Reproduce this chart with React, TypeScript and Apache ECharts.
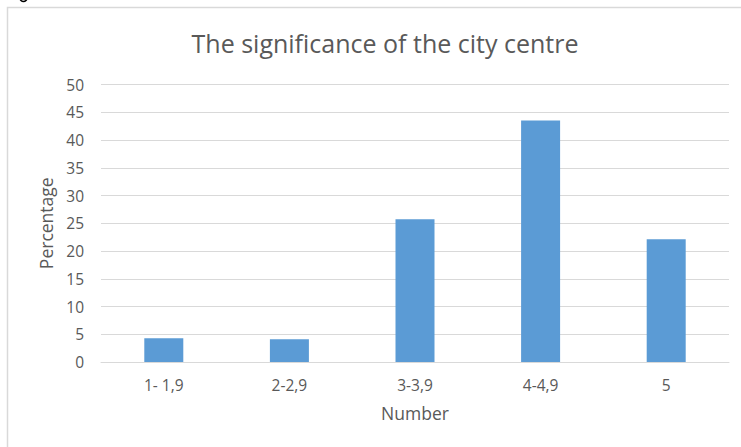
import React, { useEffect, useRef } from "react";
import * as echarts from "echarts";

const titleText = "The significance of the city centre";
const categories = ["1- 1,9", "2-2,9", "3-3,9", "4-4,9", "5"];
const percentages = [4.3, 4.1, 25.7, 43.5, 22.1];
const yAxisName = "Percentage";
const xAxisName = "Number";

const FONT = "'Open Sans', 'Noto Sans', sans-serif";
const TEXT_COLOR = "#595959";
const GRID_COLOR = "#d9d9d9";

export default function App() {
  const ref = useRef<HTMLDivElement>(null);
  useEffect(() => {
    if (!ref.current) return;
    const chart = echarts.init(ref.current, null, { renderer: "svg" });
    chart.setOption({
      animation: false,
      backgroundColor: "#ffffff",
      title: {
        text: titleText,
        left: 380,
        top: 25,
        textAlign: "center",
        textStyle: { fontFamily: FONT, fontSize: 25, fontWeight: "normal", color: TEXT_COLOR },
      },
      graphic: [
        {
          type: "rect",
          shape: { x: 7.5, y: 7.5, width: 780, height: 480 },
          style: { fill: "none", stroke: GRID_COLOR, lineWidth: 1.5 },
          silent: true,
        },
        {
          type: "arc",
          shape: { cx: 23.5, cy: -2, r: 3.5, startAngle: 0, endAngle: Math.PI, clockwise: true },
          style: { fill: "none", stroke: "#000000", lineWidth: 1.6 },
          silent: true,
        },
      ],
      grid: { left: 101, right: 12, top: 84.5, bottom: 85, containLabel: false },
      xAxis: {
        type: "category",
        data: categories,
        axisLine: { show: true, lineStyle: { color: GRID_COLOR, width: 1 } },
        axisTick: { show: false },
        axisLabel: { color: TEXT_COLOR, fontFamily: FONT, fontSize: 15.5, margin: 15 },
        name: xAxisName,
        nameLocation: "middle",
        nameGap: 42,
        nameTextStyle: { color: TEXT_COLOR, fontFamily: FONT, fontSize: 17.5 },
      },
      yAxis: {
        type: "value",
        min: 0,
        max: 50,
        interval: 5,
        axisLine: { show: false },
        axisTick: { show: false },
        splitLine: { lineStyle: { color: GRID_COLOR, width: 1 } },
        axisLabel: { color: TEXT_COLOR, fontFamily: FONT, fontSize: 15.5, margin: 17 },
        name: yAxisName,
        nameLocation: "middle",
        nameGap: 46,
        nameTextStyle: { color: TEXT_COLOR, fontFamily: FONT, fontSize: 17.5 },
      },
      series: [
        {
          type: "bar",
          data: percentages,
          barWidth: 39,
          itemStyle: { color: "#5B9BD5" },
        },
      ],
    });
    return () => chart.dispose();
  }, []);
  return (
    <div
      ref={ref}
      style={{ position: "fixed", left: 0, top: 0, width: 741, height: 447 }}
    />
  );
}
